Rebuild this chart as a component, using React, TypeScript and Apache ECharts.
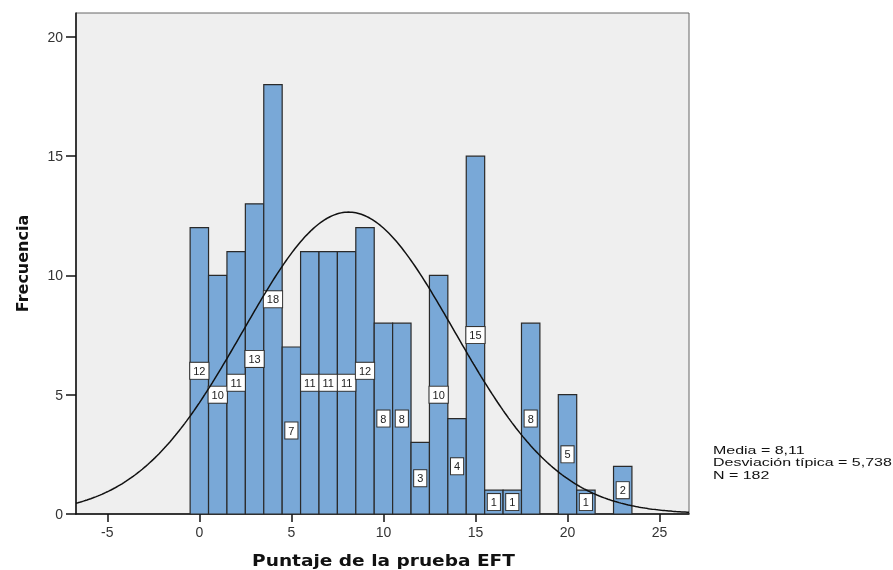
import React, { useEffect, useRef } from "react";
import * as echarts from "echarts";

const puntajes = [0, 1, 2, 3, 4, 5, 6, 7, 8, 9, 10, 11, 12, 13, 14, 15, 16, 17, 18, 19, 20, 21, 22, 23];
const frecuencias = [12, 10, 11, 13, 18, 7, 11, 11, 11, 12, 8, 8, 3, 10, 4, 15, 1, 1, 8, 0, 5, 1, 0, 2];
const xTicks = [-5, 0, 5, 10, 15, 20, 25];
const yTicks = [0, 5, 10, 15, 20];
const MEDIA = 8.11;
const DESV = 5.738;
const N = 182;
const X_MIN = -6.7;
const X_MAX = 26.6;
const tituloX = "Puntaje de la prueba EFT";
const tituloY = "Frecuencia";
const leyenda = ["Media = 8,11", "Desviación típica = 5,738", "N = 182"];

export default function App() {
  const ref = useRef<HTMLDivElement>(null);
  useEffect(() => {
    if (!ref.current) return;
    const chart = echarts.init(ref.current, undefined, { renderer: "svg" });
    const barData = puntajes.map((p, i) => [p, frecuencias[i]]).filter((d) => d[1] > 0);
    const curve: number[][] = [];
    const steps = 333;
    for (let k = 0; k <= steps; k++) {
      const x = X_MIN + ((X_MAX - X_MIN) * k) / steps;
      const z = (x - MEDIA) / DESV;
      curve.push([x, (N / (DESV * Math.sqrt(2 * Math.PI))) * Math.exp(-0.5 * z * z)]);
    }
    const font = "'Liberation Sans', Arial, sans-serif";
    const titleFont = "'DejaVu Sans', Verdana, sans-serif";
    chart.setOption({
      animation: false,
      textStyle: { fontFamily: font },
      grid: {
        left: 76, top: 13, width: 613, height: 501,
        outerBoundsMode: "none",
        containLabel: false,
        show: true, backgroundColor: "#efefef", borderColor: "#666", borderWidth: 1,
      },
      xAxis: {
        type: "value", min: X_MIN, max: X_MAX,
        axisLine: { show: true, onZero: false, lineStyle: { color: "#111", width: 1.5 } },
        axisTick: { show: true, length: 8, lineStyle: { color: "#111", width: 1.5 }, customValues: xTicks },
        axisLabel: { customValues: xTicks, fontSize: 14, color: "#333", margin: 11 },
        splitLine: { show: false },
      },
      yAxis: {
        type: "value", min: 0, max: 21,
        name: tituloY, nameLocation: "middle", nameGap: 46,
        nameTextStyle: { fontSize: 16, fontWeight: "bold", color: "#111", fontFamily: titleFont },
        axisLine: { show: true, onZero: false, lineStyle: { color: "#111", width: 1.5 } },
        axisTick: { show: true, length: 10, lineStyle: { color: "#111", width: 1.5 }, customValues: yTicks },
        axisLabel: { customValues: yTicks, fontSize: 14, color: "#333", margin: 13, padding: [4, 0, 0, 0] },
        splitLine: { show: false },
      },
      series: [
        {
          type: "custom",
          data: barData,
          renderItem: (params: any, api: any) => {
            const x = api.value(0);
            const v = api.value(1);
            const tl = api.coord([x - 0.5, v]);
            const br = api.coord([x + 0.5, 0]);
            const mid = api.coord([x, v / 2]);
            return {
              type: "group",
              children: [
                {
                  type: "rect",
                  shape: { x: tl[0], y: tl[1], width: br[0] - tl[0], height: br[1] - tl[1] },
                  style: { fill: "#79a8d7", stroke: "#2a2a2a", lineWidth: 1.2 },
                },
                {
                  type: "text",
                  x: mid[0], y: mid[1],
                  z2: 10,
                  style: {
                    text: String(v), fill: "#222", fontSize: 11, fontFamily: font,
                    align: "center", verticalAlign: "middle",
                    backgroundColor: "#fff", borderColor: "#333", borderWidth: 1,
                    padding: [3, 3, 2, 3],
                  },
                },
              ],
            };
          },
          z: 2,
        },
        {
          type: "line",
          data: curve,
          showSymbol: false,
          symbol: "none",
          lineStyle: { color: "#111", width: 1.5 },
          z: 3,
        },
      ],
      graphic: [
        {
          type: "text",
          x: 383.5, y: 560,
          scaleX: 1.16,
          style: {
            text: tituloX, fontSize: 16, fontWeight: "bold", fill: "#111", fontFamily: titleFont,
            align: "center", verticalAlign: "middle",
          },
        },
        ...leyenda.map((t, i) => ({
          type: "text",
          x: 713, y: 444 + i * 12.3,
          scaleX: 1.39,
          style: { text: t, fontSize: 11.5, fill: "#111", fontFamily: font, verticalAlign: "top" },
        })),
      ],
    });
    return () => chart.dispose();
  }, []);
  return <div ref={ref} style={{ position: "fixed", left: 0, top: 0, width: 893, height: 570 }} />;
}
